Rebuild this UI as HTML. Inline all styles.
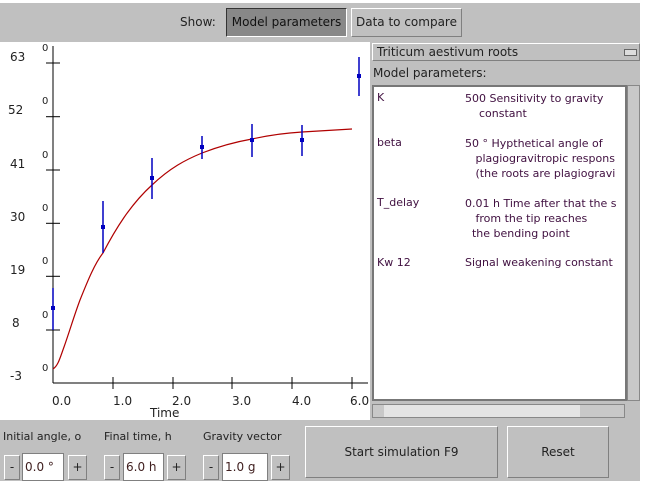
<!DOCTYPE html>
<html><head><style>
body{margin:0;width:648px;height:492px;background:#fff;position:relative;overflow:hidden;font-family:"DejaVu Sans","Liberation Sans",sans-serif;font-size:12px;color:#222}
.a{position:absolute;white-space:nowrap}
.btn{position:absolute;background:#c0c0c0;border:1px solid #fff;border-right-color:#808080;border-bottom-color:#808080;text-align:center;box-sizing:border-box;white-space:nowrap}
.field{position:absolute;background:#fff;border:1px solid #808080;box-sizing:border-box;padding-left:2px;line-height:26px;color:#402020;white-space:nowrap;overflow:hidden}
.p{position:absolute;color:#401040;font-size:11px}
</style></head><body>
<div class="a" style="left:0;top:3px;width:640px;height:39px;background:#c0c0c0"></div>
<div class="a" style="left:180px;top:15px">Show:</div>
<div class="btn" style="left:226px;top:8px;width:121px;height:29px;background:#888;border-color:#333 #fff #fff #333;line-height:27px;color:#111">Model parameters</div>
<div class="btn" style="left:351px;top:8px;width:111px;height:29px;line-height:27px">Data to compare</div>
<div class="a" style="left:0;top:42px;width:370px;height:378px;background:#fff"></div>
<svg class="a" style="left:0;top:42px" width="370" height="378">
<g transform="translate(0,-42)" font-family="DejaVu Sans,Liberation Sans,sans-serif" font-size="12" fill="#222">
<line x1="53" y1="46" x2="53" y2="383" stroke="#000"/>
<line x1="53" y1="383" x2="368" y2="383" stroke="#000"/>
<g stroke="#000"><line x1="46" x2="60" y1="63" y2="63"/><line x1="46" x2="60" y1="116.7" y2="116.7"/><line x1="46" x2="60" y1="170" y2="170"/><line x1="46" x2="60" y1="223.3" y2="223.3"/><line x1="46" x2="60" y1="276.3" y2="276.3"/><line x1="46" x2="60" y1="330" y2="330"/>
<line x1="113" x2="113" y1="377" y2="389"/><line x1="173" x2="173" y1="377" y2="389"/><line x1="232" x2="232" y1="377" y2="389"/><line x1="292" x2="292" y1="377" y2="389"/><line x1="352" x2="352" y1="377" y2="389"/></g>
<g font-size="10"><text x="42" y="51">0</text><text x="42" y="104">0</text><text x="42" y="158">0</text><text x="42" y="211">0</text><text x="42" y="264">0</text><text x="42" y="318">0</text><text x="42" y="371">0</text></g>
<text x="10" y="61">63</text><text x="8" y="114">52</text><text x="10" y="168">41</text><text x="10" y="221">30</text><text x="10" y="274">19</text><text x="12" y="327">8</text><text x="10" y="380">-3</text>
<text x="52" y="405">0.0</text><text x="113" y="405">1.0</text><text x="172" y="405">2.0</text><text x="232" y="405">3.0</text><text x="292" y="405">4.0</text><text x="350" y="405">6.0</text>
<text x="150" y="417">Time</text>
<path d="M53,369 C58,366 60,358 64,347 C70,330 74,316 80,300 C88,280 95,263 103,253 C115,230 130,205 152,185 C170,168 185,160 202,153 C220,146 235,142 252,139 C270,135 285,133 302,132 L352,129" fill="none" stroke="#b00000" stroke-width="1.2"/>
<g stroke="#0000c0" stroke-width="1.5"><line x1="53" x2="53" y1="288" y2="330"/><line x1="103" x2="103" y1="201" y2="253"/><line x1="152" x2="152" y1="158" y2="199"/><line x1="202" x2="202" y1="136" y2="159"/><line x1="252" x2="252" y1="124" y2="157"/><line x1="302" x2="302" y1="125" y2="156"/><line x1="359" x2="359" y1="57" y2="96"/></g>
<g fill="#0000c0"><rect x="51" y="306" width="4" height="4"/><rect x="101" y="225" width="4" height="4"/><rect x="150" y="176" width="4" height="4"/><rect x="200" y="145" width="4" height="4"/><rect x="250" y="138" width="4" height="4"/><rect x="300" y="138" width="4" height="4"/><rect x="357" y="74" width="4" height="4"/></g>
</g></svg>
<div class="a" style="left:370px;top:42px;width:270px;height:378px;background:#c0c0c0"></div>
<div class="btn" style="left:372px;top:43px;width:268px;height:18px;text-align:left;padding-left:4px;line-height:16px;border-color:#fff #808080 #808080 #fff">Triticum aestivum roots</div>
<div class="a" style="left:624px;top:49px;width:11px;height:5px;border:1px solid #666;background:#ddd"></div>
<div class="a" style="left:373px;top:66px">Model parameters:</div>
<div class="a" style="left:372px;top:85px;width:255px;height:316px;background:#fff;border:2px solid #777;box-sizing:border-box"></div>
<div class="a" style="left:627px;top:85px;width:13px;height:316px;background:#c8c8c8;border:1px solid #888;box-sizing:border-box"></div>
<div class="a" style="left:372px;top:404px;width:253px;height:14px;background:#c8c8c8;border:1px solid #888;box-sizing:border-box"></div>
<div class="a" style="left:384px;top:405px;width:196px;height:12px;background:#e4e4e4"></div>
<div class="p" style="left:377px;top:91px">K</div>
<div class="p" style="left:465px;top:91px;white-space:pre;line-height:15px">500 Sensitivity to gravity
    constant</div>
<div class="p" style="left:377px;top:136px">beta</div>
<div class="p" style="left:465px;top:136px;white-space:pre;line-height:15px;width:159px;overflow:hidden">50 ° Hypthetical angle of
   plagiogravitropic respons
   (the roots are plagiogravi</div>
<div class="p" style="left:377px;top:196px">T_delay</div>
<div class="p" style="left:465px;top:196px;white-space:pre;line-height:15px;width:159px;overflow:hidden">0.01 h Time after that the s
   from the tip reaches
  the bending point</div>
<div class="p" style="left:377px;top:256px">Kw 12</div>
<div class="p" style="left:465px;top:256px">Signal weakening constant</div>
<div class="a" style="left:0;top:420px;width:640px;height:61px;background:#c0c0c0"></div>
<div class="a" style="left:3px;top:430px;font-size:11px">Initial angle, o</div>
<div class="a" style="left:104px;top:430px;font-size:11px">Final time, h</div>
<div class="a" style="left:203px;top:430px;font-size:11px">Gravity vector</div>
<div class="btn" style="left:4px;top:455px;width:16px;height:25px;line-height:23px">-</div>
<div class="field" style="left:22px;top:453px;width:42px;height:28px">0.0 °</div>
<div class="btn" style="left:68px;top:455px;width:19px;height:25px;line-height:23px">+</div>
<div class="btn" style="left:104px;top:455px;width:16px;height:25px;line-height:23px">-</div>
<div class="field" style="left:123px;top:453px;width:41px;height:28px">6.0 h</div>
<div class="btn" style="left:167px;top:455px;width:19px;height:25px;line-height:23px">+</div>
<div class="btn" style="left:203px;top:455px;width:16px;height:25px;line-height:23px">-</div>
<div class="field" style="left:222px;top:453px;width:46px;height:28px">1.0 g</div>
<div class="btn" style="left:271px;top:455px;width:19px;height:25px;line-height:23px">+</div>
<div class="btn" style="left:305px;top:426px;width:193px;height:52px;line-height:50px;border-color:#fff #808080 #808080 #fff">Start simulation F9</div>
<div class="btn" style="left:507px;top:426px;width:102px;height:52px;line-height:50px">Reset</div>
</body></html>
